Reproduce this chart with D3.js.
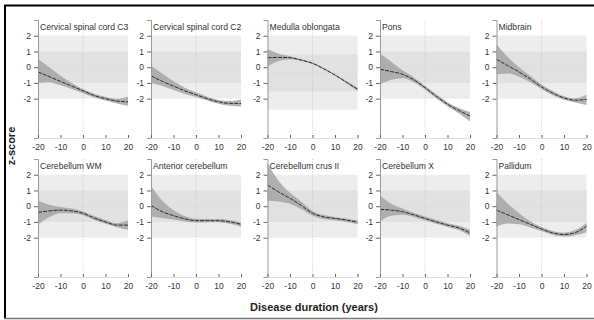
<!DOCTYPE html>
<html>
<head>
<meta charset="utf-8">
<script src="https://cdn.jsdelivr.net/npm/d3@7"></script>
<style>
  body { margin: 0; background: #fff; }
  svg { display: block; font-family: "Liberation Sans", Arial, sans-serif; }
</style>
</head>
<body>
<div id="chart"></div>
<script>
// disease duration sample points (years)
const years = [-20, -15, -10, -5, 0, 5, 10, 15, 20];
const xTicks = [-20, -10, 0, 10, 20];
const yTicks = [-2, -1, 0, 1, 2];

const regions = ["Cervical spinal cord C3", "Cervical spinal cord C2", "Medulla oblongata", "Pons", "Midbrain",
  "Cerebellum WM", "Anterior cerebellum", "Cerebellum crus II", "Cerebellum X", "Pallidum"];

// fitted z-score per region
const meanC3   = [-0.3, -0.6, -0.9, -1.2, -1.5, -1.8, -2.0, -2.15, -2.2];
const meanC2   = [-0.55, -0.9, -1.2, -1.5, -1.75, -2.0, -2.2, -2.3, -2.3];
const meanMed  = [0.6, 0.62, 0.6, 0.45, 0.25, -0.1, -0.5, -0.95, -1.4];
const meanPons = [-0.13, -0.28, -0.45, -0.8, -1.3, -1.85, -2.35, -2.75, -3.1];
const meanMid  = [0.5, 0.1, -0.3, -0.75, -1.25, -1.65, -1.95, -2.1, -2.05];
const meanCWM  = [-0.4, -0.3, -0.25, -0.3, -0.45, -0.75, -1.0, -1.2, -1.2];
const meanAnt  = [0.05, -0.35, -0.6, -0.8, -0.92, -0.92, -0.92, -1.0, -1.15];
const meanCrus = [1.35, 0.9, 0.5, 0.05, -0.45, -0.68, -0.78, -0.88, -1.02];
const meanCX   = [-0.2, -0.25, -0.35, -0.55, -0.78, -1.0, -1.2, -1.38, -1.7];
const meanPal  = [-0.25, -0.55, -0.85, -1.15, -1.45, -1.7, -1.8, -1.68, -1.28];

// confidence band, upper and lower
const upC3   = [0.5, 0.0, -0.55, -1.0, -1.38, -1.68, -1.88, -2.0, -1.88];
const loC3   = [-1.0, -0.95, -1.15, -1.38, -1.65, -1.92, -2.12, -2.3, -2.45];
const upC2   = [0.1, -0.4, -0.9, -1.3, -1.6, -1.88, -2.08, -2.15, -2.05];
const loC2   = [-1.0, -1.2, -1.45, -1.7, -1.9, -2.12, -2.32, -2.45, -2.5];
const upMed  = [1.15, 0.85, 0.7, 0.5, 0.3, -0.05, -0.45, -0.88, -1.3];
const loMed  = [0.05, 0.4, 0.5, 0.4, 0.2, -0.15, -0.55, -1.02, -1.5];
const upPons = [0.85, 0.35, -0.2, -0.65, -1.18, -1.72, -2.22, -2.6, -2.85];
const loPons = [-1.1, -0.8, -0.7, -0.95, -1.42, -1.98, -2.48, -2.92, -3.45];
const upMid  = [1.45, 0.65, 0.0, -0.55, -1.1, -1.52, -1.85, -1.98, -1.75];
const loMid  = [-0.45, -0.4, -0.6, -0.95, -1.38, -1.78, -2.07, -2.25, -2.4];
const upCWM  = [0.35, 0.1, -0.05, -0.15, -0.33, -0.63, -0.88, -1.07, -0.9];
const loCWM  = [-1.15, -0.7, -0.45, -0.45, -0.57, -0.87, -1.12, -1.33, -1.5];
const upAnt  = [1.3, 0.35, -0.25, -0.62, -0.8, -0.82, -0.82, -0.88, -1.03];
const loAnt  = [-0.65, -0.75, -0.85, -0.98, -1.04, -1.02, -1.02, -1.12, -1.3];
const upCrus = [2.75, 1.6, 0.85, 0.3, -0.3, -0.55, -0.68, -0.78, -0.9];
const loCrus = [0.35, 0.3, 0.15, -0.2, -0.6, -0.82, -0.9, -1.0, -1.15];
const upCX   = [0.7, 0.15, -0.15, -0.42, -0.66, -0.88, -1.08, -1.25, -1.5];
const loCX   = [-0.95, -0.6, -0.55, -0.68, -0.9, -1.12, -1.32, -1.52, -1.9];
const upPal  = [0.9, 0.15, -0.45, -0.95, -1.32, -1.58, -1.68, -1.52, -1.05];
const loPal  = [-1.3, -1.1, -1.15, -1.35, -1.58, -1.82, -1.93, -1.85, -1.65];

// reference bands: outer low, inner low, centre, inner high, outer high
const bandStd = [-2, -1, 0, 1, 2];
const bandMed = [-2.7, -1.55, -0.35, 0.8, 2];

const means = [meanC3, meanC2, meanMed, meanPons, meanMid, meanCWM, meanAnt, meanCrus, meanCX, meanPal];
const ups = [upC3, upC2, upMed, upPons, upMid, upCWM, upAnt, upCrus, upCX, upPal];
const los = [loC3, loC2, loMed, loPons, loMid, loCWM, loAnt, loCrus, loCX, loPal];
const bands = [bandStd, bandStd, bandMed, bandStd, bandStd, bandStd, bandStd, bandStd, bandStd, bandStd];

const W = 594, H = 320;
const colX = [38, 151, 267.5, 380, 496.5];
const rowTop = [20, 159];
const pw = 90, ph = 118;

const svg = d3.select("#chart").append("svg").attr("width", W).attr("height", H);

// frame
svg.append("line").attr("x1", 4).attr("x2", W).attr("y1", 5.5).attr("y2", 5.5)
  .attr("stroke", "#000").attr("stroke-width", 2);
svg.append("line").attr("x1", 5).attr("x2", 5).attr("y1", 5).attr("y2", 318)
  .attr("stroke", "#000").attr("stroke-width", 2);
svg.append("line").attr("x1", 4).attr("x2", W).attr("y1", 318.5).attr("y2", 318.5)
  .attr("stroke", "#777").attr("stroke-width", 1.5);

regions.forEach(function(name, k) {
  const r = Math.floor(k / 5), c = k % 5;
  const g = svg.append("g").attr("transform", "translate(" + colX[c] + "," + rowTop[r] + ")");
  const x = d3.scaleLinear().domain([-20, 20]).range([0, pw]);
  const y = d3.scaleLinear().domain([-4.5, 3]).range([ph, 0]);
  const b = bands[k];

  g.append("rect").attr("x", 0).attr("width", pw).attr("y", y(b[4])).attr("height", y(b[0]) - y(b[4]))
    .attr("fill", "#ededed");
  g.append("rect").attr("x", 0).attr("width", pw).attr("y", y(b[3])).attr("height", y(b[1]) - y(b[3]))
    .attr("fill", "#e1e1e1");
  g.append("line").attr("x1", 0).attr("x2", pw).attr("y1", y(b[2])).attr("y2", y(b[2]))
    .attr("stroke", "#d2d2d2").attr("stroke-width", 0.6).attr("stroke-dasharray", "1,1.5");
  g.append("line").attr("x1", x(0)).attr("x2", x(0)).attr("y1", 0).attr("y2", ph)
    .attr("stroke", "#bdbdbd").attr("stroke-width", 0.7).attr("stroke-dasharray", "1,1.5");

  const pts = years.map(function(yr, i) { return { t: yr, m: means[k][i], hi: ups[k][i], lo: los[k][i] }; });

  g.append("path").datum(pts)
    .attr("d", d3.area().x(d => x(d.t)).y0(d => y(d.lo)).y1(d => y(d.hi)).curve(d3.curveMonotoneX))
    .attr("fill", "#a4a4a4").attr("fill-opacity", 0.85);
  g.append("path").datum(pts)
    .attr("d", d3.line().x(d => x(d.t)).y(d => y(d.m)).curve(d3.curveMonotoneX))
    .attr("fill", "none").attr("stroke", "#2a2a2a").attr("stroke-width", 1)
    .attr("stroke-dasharray", "4,1.2");

  const ya = g.append("g").call(d3.axisLeft(y).tickValues(yTicks).tickSize(4).tickFormat(d3.format("d")));
  const xa = g.append("g").attr("transform", "translate(0," + ph + ")")
    .call(d3.axisBottom(x).tickValues(xTicks).tickSize(-3).tickPadding(6));
  [ya, xa].forEach(function(a) {
    a.select(".domain").attr("stroke", "#999").attr("stroke-width", 1);
    a.selectAll(".tick line").attr("stroke", "#666");
    a.selectAll(".tick text").attr("fill", "#333").style("font-size", "8.5px")
      .style("font-family", "'Liberation Sans', Arial, sans-serif");
  });
  xa.select(".domain").attr("stroke", "#ddd");
  ya.selectAll(".tick text").text(function(d) { return d < 0 ? "-" + Math.abs(d) : d; });
  xa.selectAll(".tick text").text(function(d) { return d < 0 ? "-" + Math.abs(d) : d; });

  g.append("text").attr("x", 2).attr("y", 10).text(name)
    .attr("fill", "#333").style("font-size", "8.6px");
});

svg.append("text").attr("transform", "translate(15,146) rotate(-90)")
  .attr("text-anchor", "middle").style("font-weight", "bold").style("font-size", "11px")
  .attr("fill", "#222").text("z-score");
svg.append("text").attr("x", 314).attr("y", 311).attr("text-anchor", "middle")
  .style("font-weight", "bold").style("font-size", "11px").attr("fill", "#222")
  .text("Disease duration (years)");
</script>
</body>
</html>
